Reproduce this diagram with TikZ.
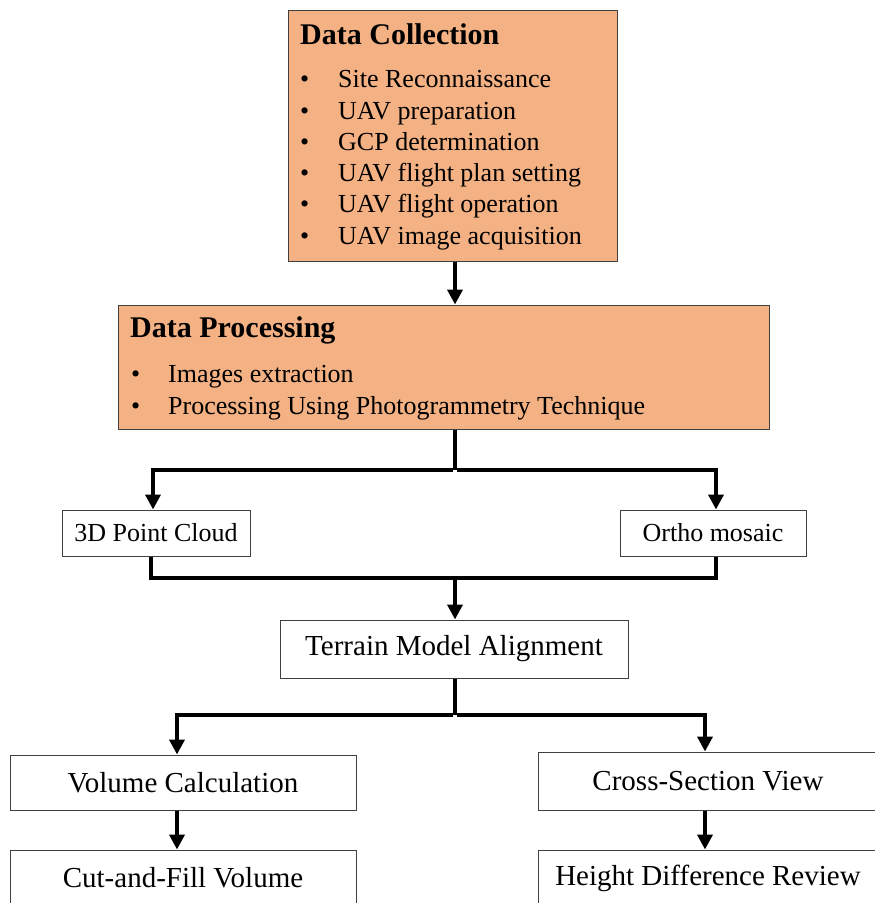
\documentclass[tikz,border=0pt]{standalone}
\usepackage{fontspec}
\setmainfont{Liberation Serif}
\usetikzlibrary{arrows.meta}
\definecolor{peach}{RGB}{244,177,131}
\tikzset{
  phase/.style={draw=black!75,line width=1pt,fill=peach,inner sep=0pt},
  result/.style={draw=black!75,line width=1pt,fill=white,inner sep=0pt,font=\fontsize{29}{31}\selectfont},
  small/.style={font=\fontsize{26}{28}\selectfont},
  head/.style={anchor=base west,inner sep=0pt,font=\fontsize{30}{32}\selectfont\bfseries},
  item/.style={anchor=base west,inner sep=0pt,font=\fontsize{26}{28}\selectfont},
  flow/.style={line width=4.5pt}
}

\newcommand{\bul}[2][38pt]{\makebox[#1][l]{\textbullet}#2}

\begin{document}
\begin{tikzpicture}[x=1pt,y=-1pt,>={Triangle[width=15pt,length=15pt]}]
  \useasboundingbox (0,0) rectangle (875,903);
  \clip (0,0) rectangle (875,903);

  % data collection
  \node[phase,minimum width=329pt,minimum height=251pt] (dc) at (452.5,135.5) {};
  \node[head] (dct) at (300,44) {Data Collection};
  \node[item] (dc1) at (300,87) {\bul{Site Reconnaissance}};
  \node[item] (dc2) at (300,119) {\bul{UAV preparation}};
  \node[item] (dc3) at (300,150) {\bul{GCP determination}};
  \node[item] (dc4) at (300,181) {\bul{UAV flight plan setting}};
  \node[item] (dc5) at (300,212) {\bul{UAV flight operation}};
  \node[item] (dc6) at (300,244) {\bul{UAV image acquisition}};

  % data processing
  \node[phase,minimum width=651pt,minimum height=124pt] (dp) at (443.5,367) {};
  \node[head] (dpt) at (130,337) {Data Processing};
  \node[item] (dp1) at (131,382) {\bul[37pt]{Images extraction}};
  \node[item] (dp2) at (131,414) {\bul[37pt]{Processing Using Photogrammetry Technique}};

  % products
  \node[result,small,minimum width=188pt,minimum height=46pt] (pc) at (156,533) {3D Point Cloud};
  \node[result,small,minimum width=186pt,minimum height=46pt] (om) at (713,533) {Ortho mosaic};
  \node[result,minimum width=348pt,minimum height=58pt] (tm) at (454,649) {Terrain Model Alignment};
  \node[result,minimum width=346pt,minimum height=55pt] (vc) at (183,782.5) {Volume Calculation};
  \node[result,minimum width=340pt,minimum height=58pt] (cs) at (708,781) {Cross-Section View};
  \node[result,minimum width=346pt,minimum height=56pt] (cf) at (183,878) {Cut-and-Fill Volume};
  \node[result,minimum width=340pt,minimum height=56pt] (hd) at (708,878) {Height Difference Review};

  \coordinate (c1) at (455,470);
  \coordinate (c2) at (455,578);
  \coordinate (c3) at (455,715);

  \draw[flow,->] (dc.south -| c1) -- (dp.north -| c1);
  \draw[flow] (dp.south -| c1) -- (c1);
  \draw[flow,->] ([xshift=-2.25pt]c1) -| ([xshift=-3pt]pc.north);
  \draw[flow,->] ([xshift=2.25pt]c1) -| ([xshift=3pt]om.north);
  \draw[flow] ([xshift=-5pt]pc.south) |- (c2) -| ([xshift=3pt]om.south);
  \draw[flow,->] (c2) -- (tm.north -| c2);
  \draw[flow] (tm.south -| c3) -- (c3);
  \draw[flow,->] ([xshift=-2.25pt]c3) -| ([xshift=-6pt]vc.north);
  \draw[flow,->] ([xshift=2.25pt]c3) -| ([xshift=-3pt]cs.north);
  \draw[flow,->] ([xshift=-6pt]vc.south) -- ([xshift=-6pt]cf.north);
  \draw[flow,->] ([xshift=-3pt]cs.south) -- ([xshift=-3pt]hd.north);
\end{tikzpicture}
\end{document}
